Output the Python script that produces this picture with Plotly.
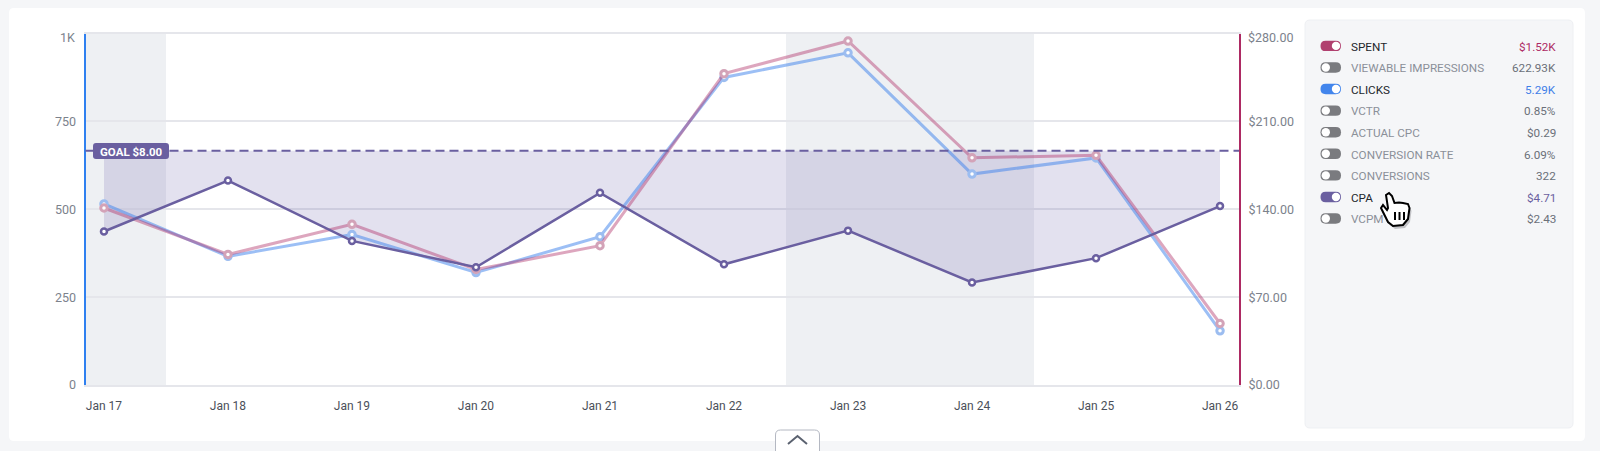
import plotly.graph_objects as go

W, H = 1600, 451

days = ["Jan 17", "Jan 18", "Jan 19", "Jan 20", "Jan 21", "Jan 22", "Jan 23", "Jan 24", "Jan 25", "Jan 26"]
clicks = [515, 366, 428, 320, 422, 875, 945, 600, 646, 154]
spent = [141, 104, 128, 92, 111, 248, 274, 181, 183, 49]
cpa = [5.24, 6.98, 4.92, 4.02, 6.56, 4.12, 5.27, 3.5, 4.33, 6.11]
goal = [8] * 10

left_ticks = [0, 250, 500, 750, 1000]
left_labels = ["0", "250", "500", "750", "1K"]
right_ticks = [0, 70, 140, 210, 280]
right_labels = ["$0.00", "$70.00", "$140.00", "$210.00", "$280.00"]

weekends = [(-0.149, 0.5), (5.5, 7.5)]

metric_names = ["SPENT", "VIEWABLE IMPRESSIONS", "CLICKS", "VCTR", "ACTUAL CPC",
                "CONVERSION RATE", "CONVERSIONS", "CPA", "VCPM"]
metric_values = ["$1.52K", "622.93K", "5.29K", "0.85%", "$0.29", "6.09%", "322", "$4.71", "$2.43"]
metric_on = [True, False, True, False, False, False, False, True, False]

PURPLE = "#6a5fa0"
BLUE = "#2f80f0"
CRIMSON = "#ad2a63"
GREY = "#7c828c"
LINE = "#e5e6eb"
metric_colors = {"SPENT": "#b0406f", "CLICKS": "#4285ec", "CPA": PURPLE}
value_colors = {"SPENT": "#ad2a63", "CLICKS": "#3f7fe8", "CPA": PURPLE}

FONT = "Roboto"


def px(x, y):
    return x / W, 1 - y / H


def path(points, close=True):
    s = ""
    for i, p in enumerate(points):
        x, y = px(*p)
        s += ("M" if i == 0 else "L") + f"{x:.5f},{y:.5f} "
    return s + ("Z" if close else "")


def round_rect(x0, y0, x1, y1, r):
    c = [(x0 + r, y0), (x1 - r, y0), (x1, y0), (x1, y0 + r), (x1, y1 - r), (x1, y1), (x1 - r, y1),
         (x0 + r, y1), (x0, y1), (x0, y1 - r), (x0, y0 + r), (x0, y0)]
    q = [px(*p) for p in c]
    s = f"M{q[0][0]:.5f},{q[0][1]:.5f} L{q[1][0]:.5f},{q[1][1]:.5f} "
    s += f"Q{q[2][0]:.5f},{q[2][1]:.5f} {q[3][0]:.5f},{q[3][1]:.5f} "
    s += f"L{q[4][0]:.5f},{q[4][1]:.5f} Q{q[5][0]:.5f},{q[5][1]:.5f} {q[6][0]:.5f},{q[6][1]:.5f} "
    s += f"L{q[7][0]:.5f},{q[7][1]:.5f} Q{q[8][0]:.5f},{q[8][1]:.5f} {q[9][0]:.5f},{q[9][1]:.5f} "
    s += f"L{q[10][0]:.5f},{q[10][1]:.5f} Q{q[11][0]:.5f},{q[11][1]:.5f} {q[0][0]:.5f},{q[0][1]:.5f} Z"
    return s


def paper_shape(d, fill=None, line=None, width=0, layer="above"):
    return dict(type="path", xref="paper", yref="paper", path=d, fillcolor=fill or "rgba(0,0,0,0)",
                line=dict(color=line or "rgba(0,0,0,0)", width=width), layer=layer)


fig = go.Figure()

# goal band first so that every line sits on top of it
fig.add_trace(go.Scatter(x=days, y=goal, yaxis="y", mode="lines", line=dict(width=0), hoverinfo="skip"))
fig.add_trace(go.Scatter(x=days, y=cpa, yaxis="y", mode="lines", line=dict(width=0), fill="tonexty",
                         fillcolor="rgba(98,90,165,0.18)", hoverinfo="skip"))
fig.add_trace(go.Scatter(x=days, y=clicks, yaxis="y2", mode="lines+markers", name="CLICKS",
                         line=dict(color="rgba(66,133,236,0.52)", width=3),
                         marker=dict(size=6.5, color="white", line=dict(color="#9cbdf0", width=3))))
fig.add_trace(go.Scatter(x=days, y=spent, yaxis="y3", mode="lines+markers", name="SPENT",
                         line=dict(color="rgba(173,42,99,0.42)", width=3),
                         marker=dict(size=6.5, color="white", line=dict(color="#d3a3b8", width=3))))
fig.add_trace(go.Scatter(x=days, y=cpa, yaxis="y4", mode="lines+markers", name="CPA",
                         line=dict(color=PURPLE, width=2.5),
                         marker=dict(size=6, color="white", line=dict(color=PURPLE, width=2.5))))

shapes = [
    paper_shape(round_rect(9, 8, 1585, 441, 5), fill="white", layer="below"),
    paper_shape(round_rect(1305, 20, 1573, 428, 5), fill="#f5f6f8", line="#eef0f3", width=1, layer="below"),
    paper_shape(round_rect(775.5, 430, 819.5, 462, 5), fill="white", line="#b4b8c2", width=1),
    paper_shape(path([(788, 420 + 24), (797.5, 420 + 16), (807, 420 + 24)], close=False), line="#5b6270", width=2),
]
for a, b in weekends:
    shapes.append(dict(type="rect", xref="x", yref="y domain", x0=a, x1=b, y0=0, y1=1,
                       fillcolor="#eef0f3", line=dict(width=0), layer="below"))
shapes.append(dict(type="line", xref="x domain", yref="y", x0=0, x1=1, y0=goal[0], y1=goal[0],
                   line=dict(color=PURPLE, width=2, dash="9px,5px"), layer="above"))
shapes.append(paper_shape(round_rect(93, 143, 169, 159, 3), fill=PURPLE))

annotations = [dict(xref="paper", yref="paper", x=131 / W, y=1 - 151.5 / H, text="<b>GOAL $8.00</b>", showarrow=False,
                    font=dict(family=FONT, size=11.5, color="white"), xanchor="center", yanchor="middle")]

# the top labels sit a little under their gridline, so they are placed apart from the axis ticks
annotations.append(dict(xref="paper", yref="paper", x=76.5 / W, y=1 - 37 / H, text=left_labels[-1], showarrow=False,
                        xanchor="right", yanchor="middle", font=dict(family=FONT, size=12.5, color=GREY)))
annotations.append(dict(xref="paper", yref="paper", x=1245.5 / W, y=1 - 37 / H, text=right_labels[-1], showarrow=False,
                        xanchor="left", yanchor="middle", font=dict(family=FONT, size=12.5, color=GREY)))

for i, name in enumerate(metric_names):
    y = 46.7 + i * 21.58
    on = metric_on[i]
    shapes.append(paper_shape(round_rect(1320.5, y - 6, 1341, y + 4.4, 5.2),
                              fill=metric_colors.get(name, "#7a7b7f")))
    kx = 1336 if on else 1325.8
    shapes.append(dict(type="circle", xref="paper", yref="paper", x0=(kx - 4.2) / W, x1=(kx + 4.2) / W,
                       y0=1 - (y - 5.0) / H, y1=1 - (y + 3.4) / H, fillcolor="white", line=dict(width=0)))
    annotations.append(dict(xref="paper", yref="paper", x=1349.3 / W, y=1 - y / H, text=name, showarrow=False,
                            xanchor="left", yanchor="middle",
                            font=dict(family=FONT, size=11.7, color="#23262c" if on else "#8b9099")))
    annotations.append(dict(xref="paper", yref="paper", x=1557.5 / W, y=1 - y / H, text=metric_values[i],
                            showarrow=False, xanchor="right", yanchor="middle",
                            font=dict(family=FONT, size=11.7, color=value_colors.get(name, "#6b7078"))))

# mouse pointer sitting over the CPA row
hand = [(1386, 195), (1389, 193), (1392, 196), (1394.5, 203), (1399, 202.5), (1403, 203), (1408, 204), (1409.5, 208),
        (1408, 219), (1403, 225), (1393, 226), (1388, 222), (1381, 208), (1383, 205), (1387, 210), (1388, 208)]
shapes.append(paper_shape(path([(x + 2, y + 3) for x, y in hand]), fill="rgba(60,60,70,0.28)"))
shapes.append(paper_shape(path(hand), fill="white", line="black", width=2))
for bx in (1395, 1399.5, 1404):
    shapes.append(paper_shape(path([(bx, 212), (bx, 220)], close=False), line="black", width=2))

fig.update_layout(
    width=W, height=H, margin=dict(l=0, r=0, t=0, b=0, autoexpand=False), autosize=False, showlegend=False,
    paper_bgcolor="#f5f6f8", plot_bgcolor="rgba(0,0,0,0)",
    font=dict(family=FONT, size=12, color=GREY), shapes=shapes, annotations=annotations,
    xaxis=dict(domain=[85.5 / W, 1239 / W], type="category", categoryorder="array", categoryarray=days,
               range=[-0.149, 9.153], showgrid=False, ticks="", zeroline=False,
               showline=True, mirror=True, linecolor=LINE, linewidth=1.5,
               tickfont=dict(size=12, color="#4b505a"), ticklabelstandoff=9),
    yaxis=dict(domain=[1 - 385 / H, 1 - 33.5 / H], range=[0, 12], tickvals=[0, 3, 6, 9, 12], showticklabels=False,
               showgrid=True, gridcolor=LINE, gridwidth=1.5, zeroline=False, showline=False, ticks=""),
    yaxis2=dict(overlaying="y", side="left", range=[0, 1000], tickvals=left_ticks, ticktext=left_labels[:-1] + [""],
                showgrid=False, zeroline=False, showline=True, linecolor=BLUE, linewidth=2, ticks="",
                tickfont=dict(size=12.5, color=GREY), anchor="x", ticklabelstandoff=5),
    yaxis3=dict(overlaying="y", side="right", range=[0, 280], tickvals=right_ticks, ticktext=right_labels[:-1] + [""],
                showgrid=False, zeroline=False, showline=True, linecolor=CRIMSON, linewidth=2, ticks="",
                tickfont=dict(size=12.5, color=GREY), anchor="x", ticklabelstandoff=5),
    yaxis4=dict(overlaying="y", range=[0, 12], visible=False, anchor="x"),
)

# the default page margin would push the fixed-size figure off the window origin
fig.write_html("out.html", config={"displayModeBar": False},
               post_script="document.body.style.margin='0';"
               "var d=document.getElementById('{plot_id}');d.style.position='fixed';d.style.left='0';d.style.top='0';")
